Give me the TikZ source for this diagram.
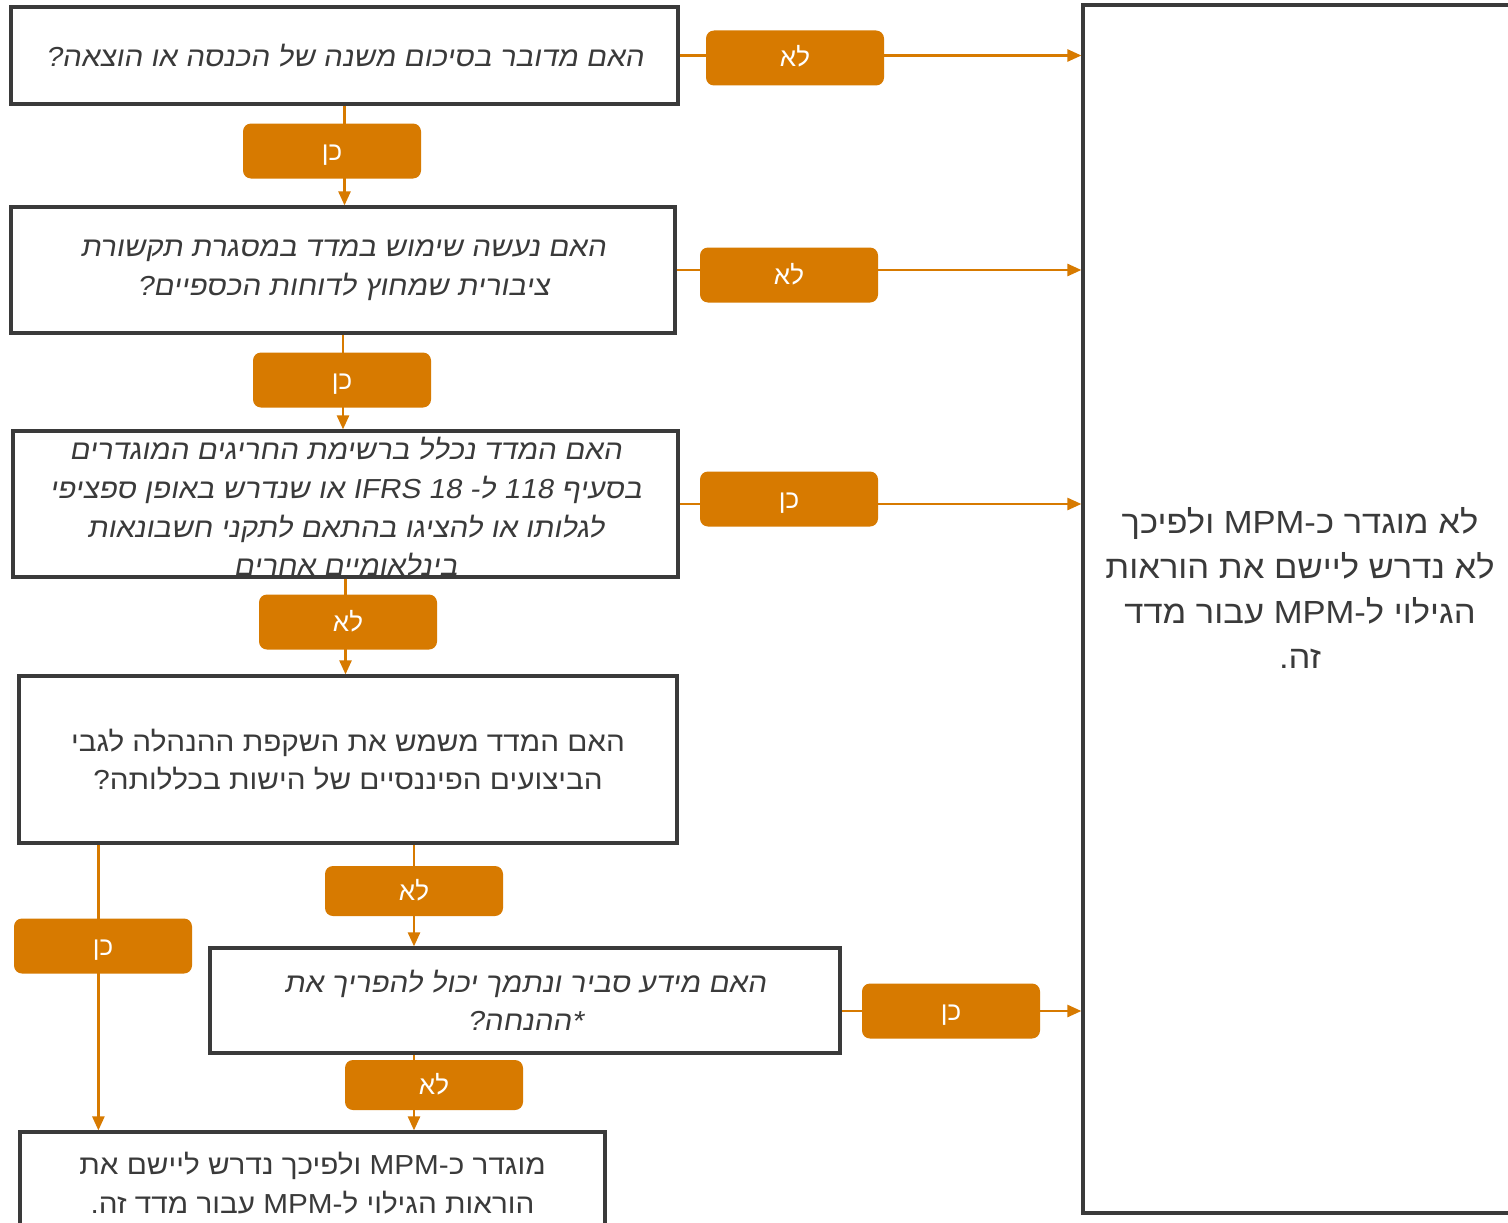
\documentclass[tikz,border=0pt]{standalone}
\usepackage{fontspec}
\usetikzlibrary{arrows.meta,calc}
\TeXXeTstate=1
\newfontfamily\hebfont[Script=Hebrew,FakeStretch=1.08]{Liberation Sans}
\newfontfamily\hebit[Script=Hebrew,FakeSlant=0.18,FakeStretch=1.08]{Liberation Sans}
\newfontfamily\heblbl[Script=Hebrew]{Liberation Sans}
\newcommand\heb[1]{\beginR #1\endR}
\newcommand\lat[1]{\beginL #1\endL{}}
\newcommand\lbltxt[1]{\raisebox{-9pt}[0pt][0pt]{\heb{#1}}}
\definecolor{orng}{HTML}{D77A00}
\definecolor{dgray}{HTML}{3A3A3A}
\begin{document}
\begin{tikzpicture}[x=1pt,y=-1pt,
  qbox/.style={draw=dgray,line width=3.2pt,fill=white,align=center,text=dgray,inner sep=0pt,
    font=\hebit\fontsize{27.5}{38.5}\selectfont},
  pbox/.style={qbox,font=\hebfont\fontsize{27.5}{38.5}\selectfont},
  lbl/.style={fill=orng,rounded corners=8pt,minimum width=178pt,minimum height=55pt,
    text=white,inner sep=0pt,font=\heblbl\fontsize{26}{28}\selectfont},
  arr/.style={draw=orng,line width=2.5pt,-{Triangle[length=14pt,width=12pt]}}]
\useasboundingbox (0,0) rectangle (1508,1223);
\clip (0,0) rectangle (1508,1223);
\fill[white] (0,0) rectangle (1508,1223);

% right result box
\node[draw=dgray,line width=3.2pt,minimum width=440pt,minimum height=1208pt,inner sep=0pt] (nomp) at (1303,609) {};
\node[align=center,text=dgray,font=\hebfont\fontsize{32}{45}\selectfont] (nomptxt) at (1300,588)
 {\heb{לא מוגדר כ-\lat{MPM} ולפיכך}\\ \heb{לא נדרש ליישם את הוראות}\\ \heb{הגילוי ל-\lat{MPM} עבור מדד}\\ \heb{זה.}};

% question boxes
\node[qbox,minimum width=667pt,minimum height=97pt] (q1) at (344.5,55.5)
 {\heb{האם מדובר בסיכום משנה של הכנסה או הוצאה?}};
\node[qbox,minimum width=664pt,minimum height=126pt] (q2) at (343,270)
 {\heb{האם נעשה שימוש במדד במסגרת תקשורת}\\ \heb{ציבורית שמחוץ לדוחות הכספיים?}};
\node[qbox,minimum width=665pt,minimum height=146pt] (q3) at (345.5,504) {};
\node[align=center,text=dgray,inner sep=0pt,font=\hebit\fontsize{27.5}{38.7}\selectfont] (q3txt) at (345.5,507)
 {\heb{האם המדד נכלל ברשימת החריגים המוגדרים}\\ \heb{בסעיף \lat{118} ל- \lat{IFRS 18} או שנדרש באופן ספציפי}\\ \heb{לגלותו או להציגו בהתאם לתקני חשבונאות}\\ \heb{בינלאומיים אחרים}};
\node[pbox,minimum width=658pt,minimum height=167pt] (q4) at (348,759.5)
 {\heb{האם המדד משמש את השקפת ההנהלה לגבי}\\ \heb{הביצועים הפיננסיים של הישות בכללותה?}};
\node[qbox,minimum width=630pt,minimum height=105pt] (q5) at (525,1000.5)
 {\heb{האם מידע סביר ונתמך יכול להפריך את}\\ \heb{*ההנחה?}};
\node[draw=dgray,line width=3.2pt,minimum width=585pt,minimum height=140pt,inner sep=0pt] (res) at (312.5,1202) {};
\node[align=center,text=dgray,inner sep=0pt,font=\hebfont\fontsize{27.5}{38.5}\selectfont] (restxt) at (312.5,1183)
 {\heb{מוגדר כ-\lat{MPM} ולפיכך נדרש ליישם את}\\ \heb{הוראות הגילוי ל-\lat{MPM} עבור מדד זה.}};

% label positions
\coordinate (c1) at (795,58);
\coordinate (c2) at (332,151);
\coordinate (c3) at (789,275);
\coordinate (c4) at (342,380);
\coordinate (c5) at (789,499);
\coordinate (c6) at (348,622);
\coordinate (c7) at (414,891);
\coordinate (c8) at (103,946);
\coordinate (c9) at (951,1011);
\coordinate (c10) at (434,1085);

% connectors
\draw[arr] (q1.east) -- (q1.east -| nomp.west);
\draw[arr] (q1.south) -- (q1.south |- q2.north);
\draw[arr] (q2.east) -- (q2.east -| nomp.west);
\draw[arr] (q2.south) -- (q2.south |- q3.north);
\draw[arr] (q3.east) -- (q3.east -| nomp.west);
\draw[arr] (q3.south) -- (q3.south |- q4.north);
\draw[arr] (q4.south -| c7) -- (c7 |- q5.north);
\draw[arr] ([xshift=81pt]q4.south west) -- ([xshift=81pt]q4.south west |- res.north);
\draw[arr] (q5.east |- c9) -- (c9 -| nomp.west);
\draw[arr] (q5.south -| c7) -- (c7 |- res.north);

% label boxes
\node[lbl] (l1) at (c1) {\lbltxt{לא}};
\node[lbl] (l2) at (c2) {\lbltxt{כן}};
\node[lbl] (l3) at (c3) {\lbltxt{לא}};
\node[lbl] (l4) at (c4) {\lbltxt{כן}};
\node[lbl] (l5) at (c5) {\lbltxt{כן}};
\node[lbl] (l6) at (c6) {\lbltxt{לא}};
\node[lbl,minimum height=50pt] (l7) at (c7) {\lbltxt{לא}};
\node[lbl] (l8) at (c8) {\lbltxt{כן}};
\node[lbl] (l9) at (c9) {\lbltxt{כן}};
\node[lbl,minimum height=50pt] (l10) at (c10) {\lbltxt{לא}};
\end{tikzpicture}
\end{document}
